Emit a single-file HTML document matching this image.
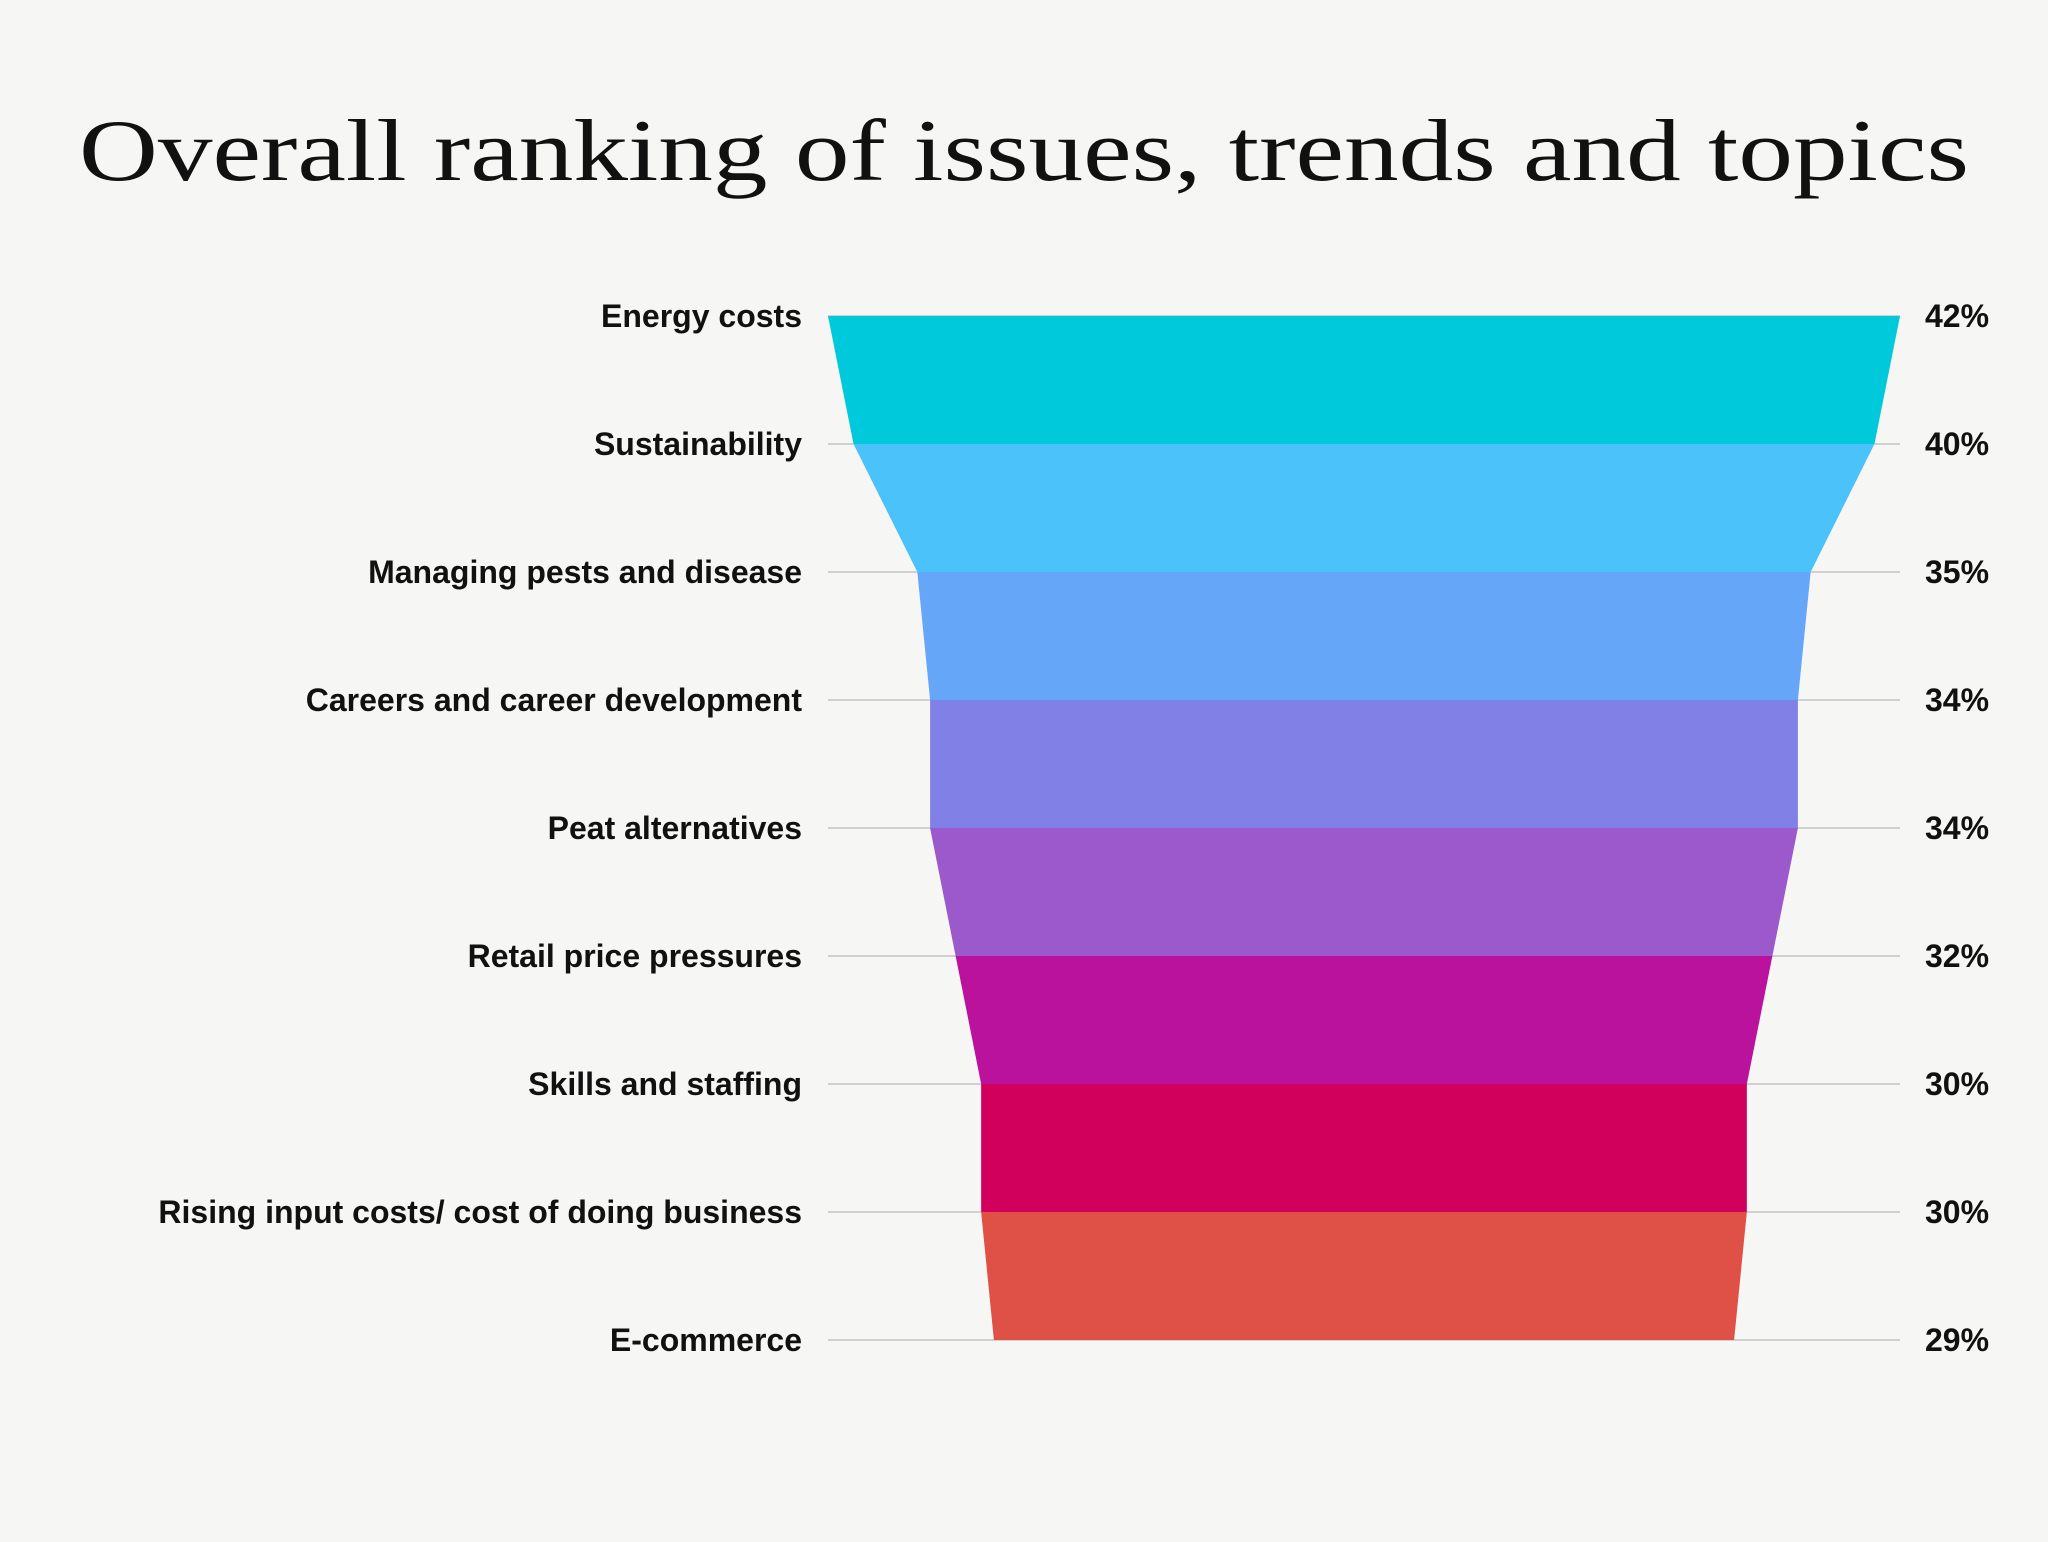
<!DOCTYPE html>
<html><head><meta charset="utf-8"><style>
html,body{margin:0;padding:0;background:#f6f6f5;}
svg{display:block;}
</style></head><body>
<svg id="chart" width="2048" height="1542" viewBox="0 0 2048 1542" xmlns="http://www.w3.org/2000/svg">
<rect width="2048" height="1542" fill="#f6f6f5"/>
<text x="1024" y="180" text-anchor="middle" font-family="Liberation Serif, serif" font-size="88" textLength="1890" lengthAdjust="spacingAndGlyphs" fill="#111">Overall ranking of issues, trends and topics</text>
<g id="grid"></g><g id="bands"></g><g id="labels"></g><g id="values"></g>
</svg>
<script>
const categories = ["Energy costs","Sustainability","Managing pests and disease","Careers and career development","Peat alternatives","Retail price pressures","Skills and staffing","Rising input costs/ cost of doing business","E-commerce"];
const values = [42,40,35,34,34,32,30,30,29];
const valueLabels = ["42%","40%","35%","34%","34%","32%","30%","30%","29%"];
const colors = ["#00c9db","#4bc3fa","#66a6f8","#8080e6","#9b59cb","#bb129e","#d1005c","#df5047"];
const NS="http://www.w3.org/2000/svg";
const cx=1364, maxHalf=536, top0=316, pitch=128, lineL=828, lineR=1900;
const maxV=Math.max(...values);
function yPos(i){return top0+i*pitch;}
function half(v){return maxHalf*v/maxV;}
const grid=document.getElementById('grid'),bands=document.getElementById('bands'),labels=document.getElementById('labels'),vals=document.getElementById('values');
categories.forEach((c,i)=>{
  const y=yPos(i);
  const l=document.createElementNS(NS,'line');
  l.setAttribute('x1',lineL);l.setAttribute('x2',lineR);l.setAttribute('y1',y);l.setAttribute('y2',y);
  l.setAttribute('stroke','#d0d0d0');l.setAttribute('stroke-width','2');
  
  
  grid.appendChild(l);
  const t=document.createElementNS(NS,'text');
  t.setAttribute('x',802);t.setAttribute('y',y+11);t.setAttribute('text-anchor','end');
  t.setAttribute('font-family','Liberation Sans, sans-serif');t.setAttribute('font-weight','bold');t.setAttribute('font-size','32');t.setAttribute('fill','#111');
  t.textContent=c;
  
  
  labels.appendChild(t);
  const v=document.createElementNS(NS,'text');
  v.setAttribute('x',1925);v.setAttribute('y',y+11);
  v.setAttribute('font-family','Liberation Sans, sans-serif');v.setAttribute('font-weight','bold');v.setAttribute('font-size','32');v.setAttribute('fill','#111');
  v.textContent=valueLabels[i];
  
  
  vals.appendChild(v);
});
for(let i=0;i<values.length-1;i++){
  const y1=yPos(i),y2=yPos(i+1),h1=half(values[i]),h2=half(values[i+1]);
  const p=document.createElementNS(NS,'polygon');
  p.setAttribute('points',`${cx-h1},${y1} ${cx+h1},${y1} ${cx+h2},${y2} ${cx-h2},${y2}`);
  p.setAttribute('fill',colors[i%colors.length]);
  
  
  bands.appendChild(p);
}
</script>
</body></html>
